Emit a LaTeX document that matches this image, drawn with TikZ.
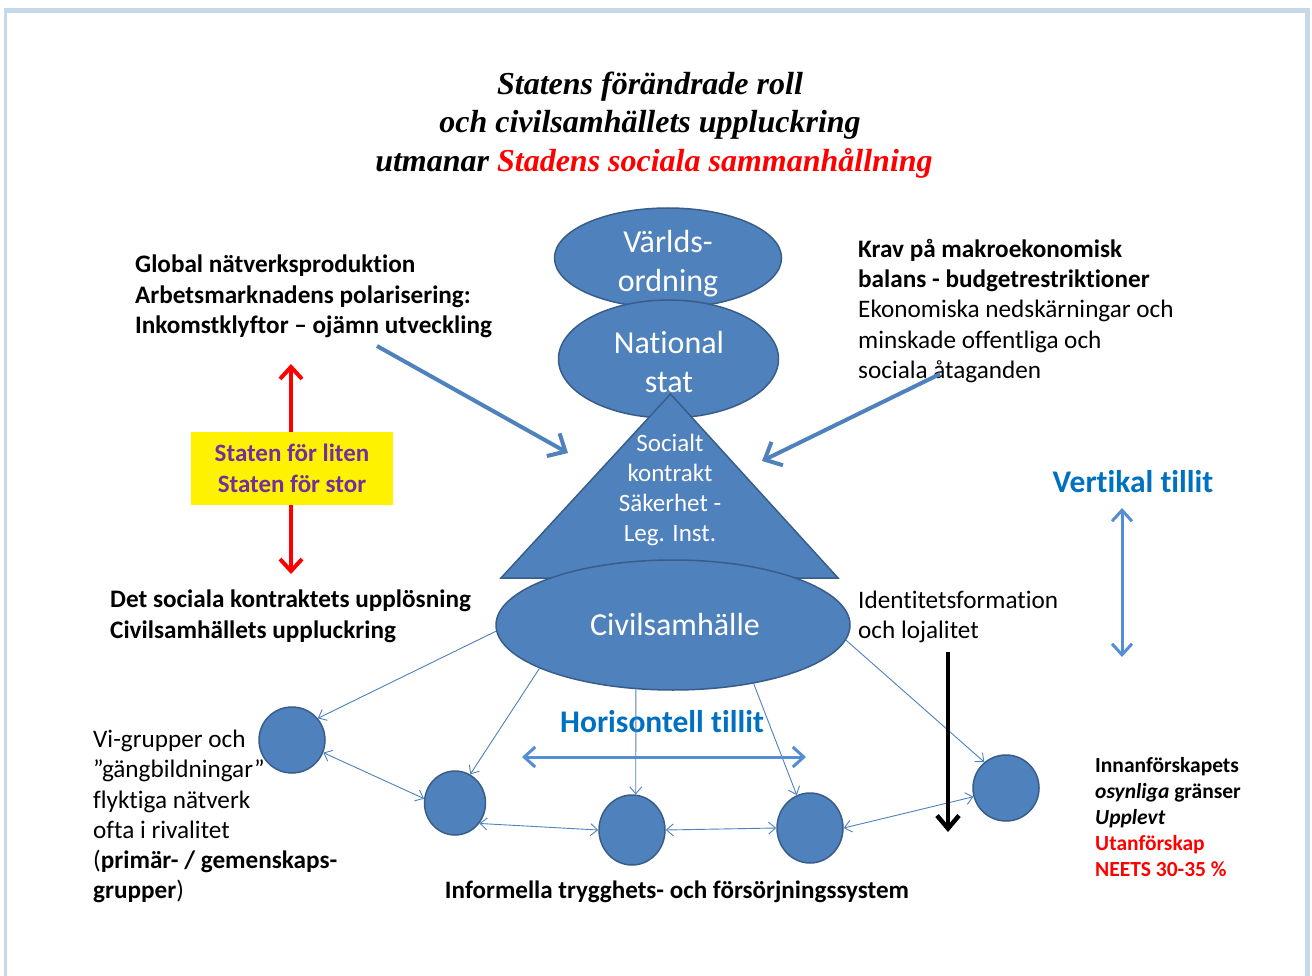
\documentclass[tikz,border=0pt]{standalone}
\usepackage{fontspec}
\setmainfont{Carlito}[Ligatures={NoCommon}]
\newfontfamily\titlefont{Liberation Serif}
\usetikzlibrary{arrows.meta,shapes.geometric}
\definecolor{shapeblue}{HTML}{4F81BD}
\definecolor{shapeline}{HTML}{385D8A}
\definecolor{trustblue}{HTML}{0070C0}
\definecolor{trustarrow}{HTML}{558ED5}
\definecolor{purp}{HTML}{7030A0}
\definecolor{frameblue}{HTML}{C6D9E8}
\begin{document}
\begin{tikzpicture}[x=1pt,y=-1pt,
  blob/.style={ellipse, fill=shapeblue, draw=shapeline, line width=1.5pt, inner sep=0},
  wtxt/.style={text=white, font=\fontsize{32}{39}\selectfont, anchor=base, inner sep=0},
  wsmall/.style={text=white, font=\fontsize{25}{30}\selectfont, anchor=base, inner sep=0},
  ttl/.style={font=\titlefont\bfseries\itshape\fontsize{32}{38.5}\selectfont, anchor=base, inner sep=0},
  btxt/.style={font=\bfseries\fontsize{25.2}{30.2}\selectfont, align=left, inner sep=0, anchor=north west},
  ntxt/.style={font=\fontsize{25.2}{30.2}\selectfont, align=left, inner sep=0, anchor=north west},
  trust/.style={font=\bfseries\fontsize{31.5}{38}\selectfont, text=trustblue, anchor=base, inner sep=0},
  thinarrow/.style={draw=shapeblue, line width=0.9pt, -{Straight Barb[length=7pt,width=12pt]}},
  thindouble/.style={draw=shapeblue, line width=0.9pt, {Straight Barb[length=7pt,width=12pt]}-{Straight Barb[length=7pt,width=12pt]}},
  thickarrow/.style={draw=shapeblue, line width=4pt, -{Straight Barb[length=14pt,width=26pt]}},
  trustarr/.style={draw=trustarrow, line width=3pt, {Straight Barb[length=11pt,width=20pt]}-{Straight Barb[length=11pt,width=20pt]}},
  redarrow/.style={draw=red, line width=4pt, -{Straight Barb[length=12pt,width=22pt]}},
  blackarrow/.style={draw=black, line width=4.5pt, -{Straight Barb[length=13pt,width=22pt]}}
]
\useasboundingbox (0,0) rectangle (1312,976);
% frame
\fill[frameblue] (4,8) rectangle (1310,980);
\fill[white] (6.5,13) rectangle (1305,980);

% title
\node[ttl] (t1) at (650,94.5) {Statens förändrade roll};
\node[ttl] (t2) at (650,133) {och civilsamhällets uppluckring};
\node[ttl] (t3) at (654,171.5) {utmanar \textcolor{red}{Stadens sociala sammanhållning}};

% text blocks
\node[btxt] (glob) at (135,255) {Global nätverksproduktion\\Arbetsmarknadens polarisering:\\Inkomstklyftor – ojämn utveckling};
\node[ntxt] (krav) at (858,239) {\textbf{Krav på makroekonomisk}\\\textbf{balans - budgetrestriktioner}\\Ekonomiska nedskärningar och\\minskade offentliga och\\sociala åtaganden};
\node[btxt, font=\bfseries\fontsize{25.2}{31}\selectfont] (upl) at (110,590) {Det sociala kontraktets upplösning\\Civilsamhällets uppluckring};
\node[ntxt] (ident) at (858,591) {Identitetsformation\\och lojalitet};
\node[ntxt] (vigr) at (93,730) {Vi-grupper och\\”gängbildningar”\\flyktiga nätverk\\ofta i rivalitet\\(\textbf{primär- / gemenskaps-}\\\textbf{grupper})};
\node[btxt, font=\bfseries\fontsize{21.5}{26}\selectfont] (innan) at (1095,757) {Innanförskapets\\\textit{osynliga} gränser\\\textit{Upplevt}\\\textcolor{red}{Utanförskap}\\\textcolor{red}{NEETS 30-35 \%}};
\node[font=\bfseries\fontsize{25.1}{30}\selectfont, anchor=base, inner sep=0] (inform) at (677,898) {Informella trygghets- och försörjningssystem};

% trust labels
\node[trust] (vert) at (1133,492) {Vertikal tillit};
\node[trust] (hori) at (662,732) {Horisontell tillit};

% central shapes
\node[blob, minimum width=227pt, minimum height=100pt] (varld) at (668,258) {};
\node[blob, minimum width=220pt, minimum height=118pt] (nat) at (668.5,359) {};
\coordinate (apex) at (670.5,394);
\coordinate (bl) at (501,578);
\coordinate (br) at (838,578);
\draw[fill=shapeblue, draw=shapeline, line width=1.5pt, line join=miter] (apex) -- (bl) -- (br) -- cycle;
\node[blob, minimum width=354pt, minimum height=130pt] (cs) at (673,625) {};

\node[wtxt] (v1) at (668,253) {Världs-};
\node[wtxt] (v2) at (668,292) {ordning};
\node[wtxt] (n1) at (669,353) {National};
\node[wtxt] (n2) at (669,392) {stat};
\node[wsmall] (s1) at (670,451) {Socialt};
\node[wsmall] (s2) at (670,481) {kontrakt};
\node[wsmall] (s3) at (670,511) {Säkerhet -};
\node[wsmall] (s4) at (670,541) {Leg. Inst.};
\node[wtxt] (cst) at (675,635) {Civilsamhälle};

% small circles
\node[blob, minimum width=66pt, minimum height=66pt] (c1) at (292,740) {};
\node[blob, minimum width=61pt, minimum height=64pt] (c2) at (455,803) {};
\node[blob, minimum width=66pt, minimum height=70pt] (c3) at (632,830) {};
\node[blob, minimum width=66pt, minimum height=70pt] (c4) at (810,828) {};
\node[blob, minimum width=66pt, minimum height=66pt] (c5) at (1006,788) {};

% thin connectors
\draw[thinarrow] (cs.182) -- (c1.40);
\draw[thinarrow] (cs.198) -- (c2.62);
\draw[thinarrow] (cs.240) -- (c3.84);
\draw[thinarrow] (cs.324) -- (c4.112);
\draw[thinarrow] (cs.355) -- (c5.130);
\draw[thindouble] (c1.-22) -- (c2.172);
\draw[thindouble] (c2.-40) -- (c3.west);
\draw[thindouble] (c3.east) -- (c4.west);
\draw[thindouble] (c4.east) -- (c5.195);

% thick blue arrows
\coordinate (la) at (377,346);
\coordinate (lb) at (568,453);
\coordinate (ra) at (940,374);
\coordinate (rb) at (762,461);
\draw[thickarrow] (la) -- (lb);
\draw[thickarrow] (ra) -- (rb);

% trust arrows
\coordinate (vt) at (1122,508);
\coordinate (vb) at (1122,657);
\draw[trustarr] (vt) -- (vb);
\coordinate (hl) at (522,757);
\coordinate (hr) at (806,757);
\draw[trustarr] (hl) -- (hr);

% black arrow
\coordinate (ka) at (948,652);
\coordinate (kb) at (948,832);
\draw[blackarrow] (ka) -- (kb);

% red arrows and yellow box
\node[fill=yellow, minimum width=202pt, minimum height=73pt, inner sep=0, text=purp, align=center, font=\bfseries\fontsize{25}{31}\selectfont] (box) at (292,468.5) {Staten för liten\\Staten för stor};
\coordinate (rtop) at (291,364);
\coordinate (rbot) at (291,574);
\draw[redarrow] (box.north -| rtop) -- (rtop);
\draw[redarrow] (box.south -| rbot) -- (rbot);
\end{tikzpicture}
\end{document}
